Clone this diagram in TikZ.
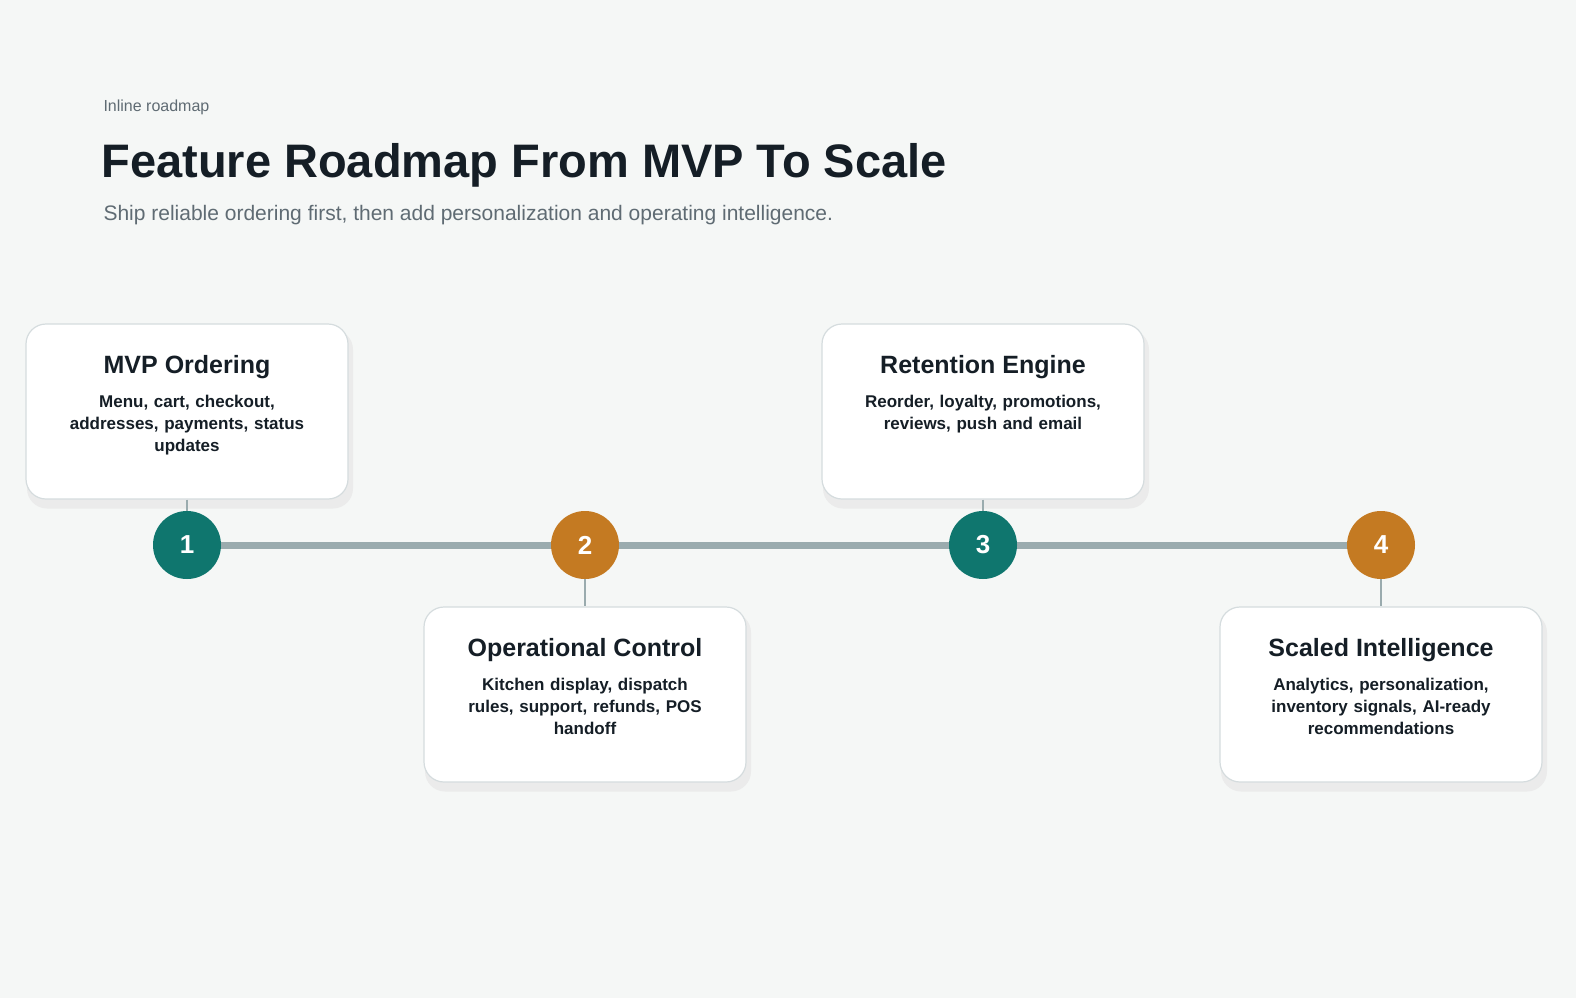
\documentclass[tikz,border=0pt]{standalone}
\usepackage{fontspec}
\setmainfont{Liberation Sans}
\usetikzlibrary{positioning}
\definecolor{bg}{HTML}{F5F7F6}
\definecolor{ink}{HTML}{151E26}
\definecolor{muted}{HTML}{5F6B73}
\definecolor{track}{HTML}{9AABAE}
\definecolor{tealc}{HTML}{0F766E}
\definecolor{orangec}{HTML}{C47A22}
\definecolor{edge}{HTML}{D5DCDE}

\begin{document}
\begin{tikzpicture}[x=1pt, y=-1pt,
    card/.style={rectangle, rounded corners=20pt, draw=edge, line width=1.2pt, fill=white,
      minimum width=322pt, minimum height=175pt, inner sep=0pt},
    shadow/.style={rectangle, rounded corners=20pt, fill=black!8, draw=none,
      minimum width=326pt, minimum height=179pt},
    marker/.style={circle, minimum size=68pt, inner sep=0pt, text=white,
      font=\fontsize{26}{26}\selectfont\bfseries},
    ttl/.style={font=\fontsize{25}{30}\selectfont\bfseries, text=ink},
    body/.style={font=\fontsize{17}{22}\selectfont\bfseries, text=ink, align=center, text width=290pt},
    stub/.style={draw=track, line width=2.5pt}]

    % background and bounds
    \fill[bg] (0,0) rectangle (1576,998);
    \useasboundingbox (0,0) rectangle (1576,998);

    % heading
    \node[anchor=base west, text=muted, font=\fontsize{16}{16}\selectfont] (kicker) at (100,111) {Inline roadmap};
    \node[anchor=base west, text=ink, font=\fontsize{47}{47}\selectfont\bfseries] (title) at (98,177) {Feature Roadmap From MVP To Scale};
    \node[anchor=base west, text=muted, font=\fontsize{21}{21}\selectfont] (subtitle) at (100,220) {Ship reliable ordering first, then add personalization and operating intelligence.};

    % track
    \draw[track, line width=7pt] (187,545) -- (1381,545);

    % milestones
    \foreach \i/\x/\c in {1/187/tealc, 2/585/orangec, 3/983/tealc, 4/1381/orangec}
      \node[marker, fill=\c] (s\i) at (\x,545) {\i};

    % cards above
    \foreach \i/\x in {1/187, 3/983} {
      \node[shadow] at (\x+3,419) {};
      \node[card] (c\i) at (\x,411.5) {};
      \draw[stub] (c\i.south) -- (s\i.north);
    }
    % cards below
    \foreach \i/\x in {2/585, 4/1381} {
      \node[shadow] at (\x+3,702) {};
      \node[card] (c\i) at (\x,694.5) {};
      \draw[stub] (s\i.south) -- (c\i.north);
    }

    % card texts
    \node[ttl, below=28pt of c1.north] (t1) {MVP Ordering};
    \node[body, below=10pt of t1] (b1) {Menu, cart, checkout,\\addresses, payments, status\\updates};
    \node[ttl, below=28pt of c2.north] (t2) {Operational Control};
    \node[body, below=10pt of t2] (b2) {Kitchen display, dispatch\\rules, support, refunds, POS\\handoff};
    \node[ttl, below=28pt of c3.north] (t3) {Retention Engine};
    \node[body, below=10pt of t3] (b3) {Reorder, loyalty, promotions,\\reviews, push and email};
    \node[ttl, below=28pt of c4.north] (t4) {Scaled Intelligence};
    \node[body, below=10pt of t4] (b4) {Analytics, personalization,\\inventory signals, AI-ready\\recommendations};

\end{tikzpicture}
\end{document}
